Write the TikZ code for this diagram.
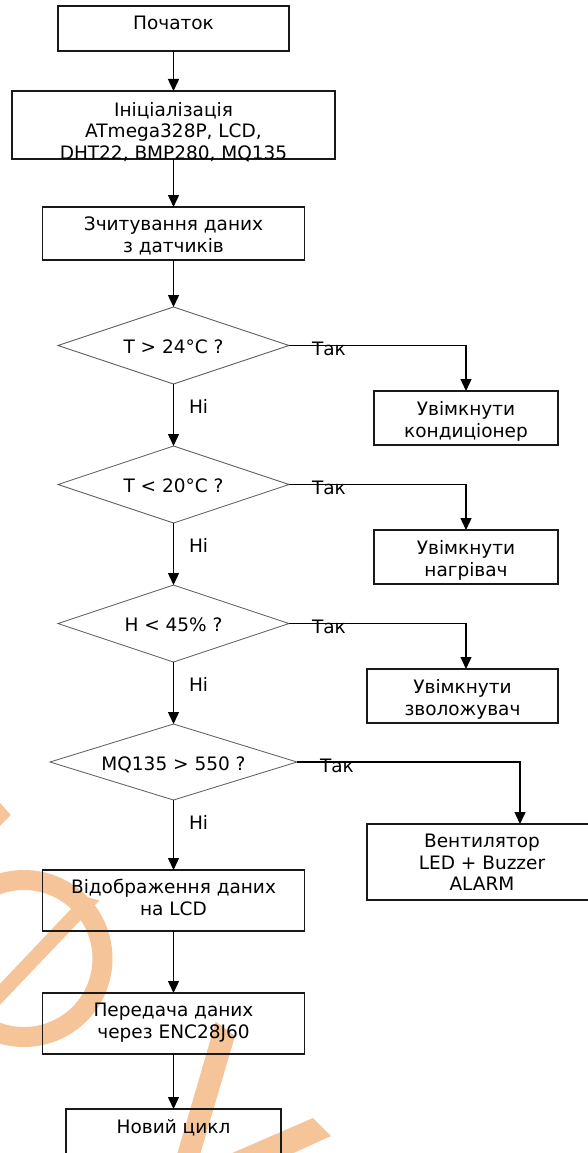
\documentclass[tikz,border=0pt]{standalone}
\usepackage{fontspec}
\setmainfont{DejaVu Sans}
\usetikzlibrary{arrows.meta,shapes.geometric}
\definecolor{wm}{RGB}{245,196,153}
\definecolor{dline}{RGB}{90,90,90}
\newcommand\fl{\rule{0pt}{15pt}}
\begin{document}
\begin{tikzpicture}[x=1pt,y=-1pt,
  box/.style={draw=black!90, line width=1.4pt, inner sep=0pt, outer sep=0pt},
  dia/.style={diamond, draw=dline, line width=0.8pt, inner sep=0pt, outer sep=0pt},
  txt/.style={font=\fontsize{18.5}{21.5}\selectfont, inner sep=0pt, outer sep=0pt, align=center, anchor=north},
  lbl/.style={font=\fontsize{18.5}{21.5}\selectfont, inner sep=0pt, outer sep=0pt, anchor=base west},
  arr/.style={line width=1.4pt, -{Triangle[length=12pt,width=11pt]}},
  wmk/.style={draw=wm, line width=20pt},
  wmf/.style={fill=wm, draw=none}
]
\useasboundingbox (0,0) rectangle (588,1153);
\fill[white] (0,0) rectangle (588,1153);
% watermark
\fill[wmf] (-20,780) -- (10.7,815) -- (-3,829) -- (-30,795) -- cycle;
\draw[wmk] (24,958.5) circle [radius=78.5pt];
\fill[wmf] (83.3,896) -- (99.3,900.5) -- (-30.7,1037) -- (-46.7,1033) -- cycle;
\fill[wmf] (215.7,1021.7) -- (235,1036) -- (197,1165) -- (174,1165) -- cycle;
\fill[wmf] (313,1118) -- (331,1136) -- (256,1170) -- (193,1170) -- cycle;

% boxes
\node[box, minimum width=231pt, minimum height=45pt] (start) at (173.5,28.5) {};
\node[box, minimum width=323pt, minimum height=68pt] (init) at (173.5,125) {};
\node[box, minimum width=262pt, minimum height=53pt] (read) at (173.5,233.5) {};
\node[dia, minimum width=231pt, minimum height=77pt] (d1) at (173.5,345.5) {};
\node[box, minimum width=184pt, minimum height=54pt] (c1) at (466,418) {};
\node[dia, minimum width=231pt, minimum height=77pt] (d2) at (173.5,484.5) {};
\node[box, minimum width=184pt, minimum height=54pt] (c2) at (466,557) {};
\node[dia, minimum width=231pt, minimum height=77pt] (d3) at (173.5,623.5) {};
\node[box, minimum width=191pt, minimum height=54pt] (c3) at (462.5,696) {};
\node[dia, minimum width=247pt, minimum height=76pt] (d4) at (173.5,762) {};
\node[box, minimum width=230pt, minimum height=76pt] (c4) at (482,862) {};
\node[box, minimum width=262pt, minimum height=61pt] (disp) at (173.5,900.5) {};
\node[box, minimum width=262pt, minimum height=61pt] (send) at (173.5,1023.5) {};
\node[box, minimum width=215pt, minimum height=45pt] (newc) at (173.5,1131.5) {};

% texts (north = first baseline - 15)
\node[txt] (startT) at (173.5,15) {\fl Початок};
\node[txt] (initT) at (173.5,101) {\fl Ініціалізація\\ATmega328P, LCD,\\DHT22, BMP280, MQ135};
\node[txt] (readT) at (173.5,215.5) {\fl Зчитування даних\\з датчиків};
\node[txt] (d1T) at (173.5,338) {\fl T > 24°C ?};
\node[txt] (c1T) at (466,400.5) {\fl Увімкнути\\кондиціонер};
\node[txt] (d2T) at (173.5,477) {\fl T < 20°C ?};
\node[txt] (c2T) at (466,539.5) {\fl Увімкнути\\нагрівач};
\node[txt] (d3T) at (173.5,616) {\fl H < 45\% ?};
\node[txt] (c3T) at (462.5,678.5) {\fl Увімкнути\\зволожувач};
\node[txt] (d4T) at (173.5,755) {\fl MQ135 > 550 ?};
\node[txt] (c4T) at (482,832.5) {\fl Вентилятор\\LED + Buzzer\\ALARM};
\node[txt] (dispT) at (173.5,878.5) {\fl Відображення даних\\на LCD};
\node[txt] (sendT) at (173.5,1001.5) {\fl Передача даних\\через ENC28J60};
\node[txt] (newT) at (173.5,1118) {\fl Новий цикл};

% connectors
\draw[arr] (start.south) -- (init.north);
\draw[arr] (init.south) -- (read.north);
\draw[arr] (read.south) -- (d1.north);
\draw[arr] (d1.south) -- (d2.north);
\draw[arr] (d2.south) -- (d3.north);
\draw[arr] (d3.south) -- (d4.north);
\draw[arr] (d4.south) -- (disp.north);
\draw[arr] (disp.south) -- (send.north);
\draw[arr] (send.south) -- (newc.north);
\draw[arr] (d1.east) -| (c1.north);
\draw[arr] (d2.east) -| (c2.north);
\draw[arr] (d3.east) -| ([xshift=3.5pt]c3.north);
\draw[arr] (d4.east) -| ([xshift=38pt]c4.north);

% labels
\node[lbl] (y1) at (312,355) {Так};
\node[lbl] (y2) at (312,494) {Так};
\node[lbl] (y3) at (312,633) {Так};
\node[lbl] (y4) at (320,772) {Так};
\node[lbl] (n1) at (189,413.5) {Ні};
\node[lbl] (n2) at (189,552.5) {Ні};
\node[lbl] (n3) at (189,691.5) {Ні};
\node[lbl] (n4) at (189,829.5) {Ні};
\end{tikzpicture}
\end{document}
